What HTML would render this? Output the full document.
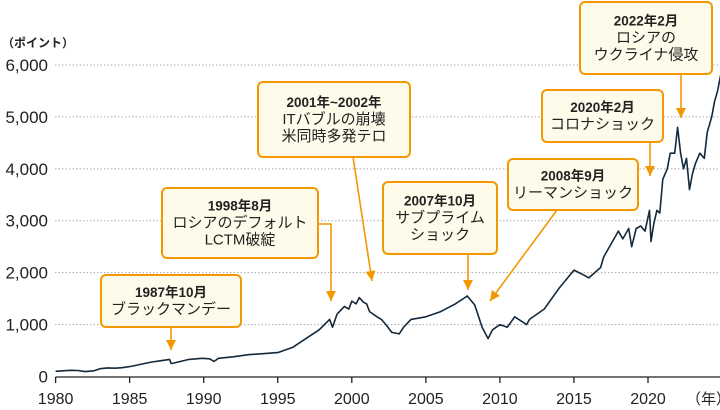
<!DOCTYPE html>
<html><head><meta charset="utf-8"><style>
body{margin:0;background:#fff;}
svg{display:block;font-family:"Liberation Sans","Noto Sans CJK JP",sans-serif;}
</style></head><body>
<svg id="chart" width="720" height="410" viewBox="0 0 720 410">
<g id="grid"></g>
<g id="yt"></g>
<g id="xt"></g>
<text x="2" y="47" font-size="12" font-weight="bold" fill="#222">（ポイント）</text>
<text x="686" y="404" font-size="15" fill="#222">（年）</text>
<path id="line" fill="none" stroke="#14293b" stroke-width="1.6" stroke-linejoin="round"/>
<g id="notes"></g>
</svg>
<script>
const years=[1980,1980.5,1981,1981.5,1982,1982.6,1983,1983.5,1984,1984.5,1985,1985.5,1986,1986.5,1987,1987.7,1987.8,1988,1989,1989.9,1990.4,1990.7,1991,1992,1993,1994,1995,1996,1997,1997.8,1998.5,1998.7,1999,1999.5,1999.8,2000,2000.3,2000.5,2000.8,2001,2001.2,2001.7,2002,2002.3,2002.7,2003.2,2003.5,2004,2005,2006,2007,2007.8,2008.3,2008.8,2009.2,2009.5,2010,2010.5,2011,2011.8,2012,2013,2014,2015,2015.7,2016,2016.8,2017,2018,2018.3,2018.7,2018.9,2019.2,2019.5,2019.8,2020.1,2020.2,2020.4,2020.6,2020.8,2021,2021.3,2021.5,2021.8,2022,2022.2,2022.4,2022.6,2022.8,2023,2023.2,2023.5,2023.8,2024,2024.3,2024.5,2024.7,2024.9];
const values=[100,110,120,115,95,110,150,165,160,170,190,220,250,280,300,330,250,260,330,350,340,290,350,380,420,440,460,560,750,900,1100,950,1200,1350,1300,1450,1400,1520,1430,1400,1250,1150,1100,1000,850,820,950,1100,1150,1250,1400,1550,1380,950,730,900,1000,950,1150,1000,1100,1300,1700,2050,1950,1900,2100,2300,2800,2650,2850,2500,2850,2900,2800,3200,2600,2950,3200,3150,3800,4000,4300,4300,4800,4300,4000,4200,3600,3900,4100,4300,4200,4700,5000,5300,5500,5800];
const yTicks=[0,1000,2000,3000,4000,5000,6000];
const yLabels=["0","1,000","2,000","3,000","4,000","5,000","6,000"];
const xTicks=[1980,1985,1990,1995,2000,2005,2010,2015,2020];
const NS="http://www.w3.org/2000/svg";
const X=y=>55.6+(y-1980)*14.81;
const Y=v=>376.5-v*0.05192;
function mk(p,t,a){const e=document.createElementNS(NS,t);for(const k in a)e.setAttribute(k,a[k]);p.appendChild(e);return e;}
const grid=document.getElementById('grid'),yt=document.getElementById('yt'),xt=document.getElementById('xt');
yTicks.forEach((v,i)=>{
  if(v>0){const l=mk(grid,'line',{x1:55,x2:720,y1:Y(v),y2:Y(v),stroke:'#aaa','stroke-width':1,'stroke-dasharray':'1.5,2'});
  
  }
  const t=mk(yt,'text',{x:48,y:Y(v)+6,'text-anchor':'end','font-size':17,fill:'#222'});t.textContent=yLabels[i];
  
  
});
mk(xt,'line',{x1:55.6,x2:720,y1:377,y2:377,stroke:'#222','stroke-width':1.3});
xTicks.forEach(y=>{
  mk(xt,'line',{x1:X(y),x2:X(y),y1:377,y2:383,stroke:'#222','stroke-width':1.3});
  const t=mk(xt,'text',{x:X(y),y:404,'text-anchor':'middle','font-size':16,fill:'#222'});t.textContent=y;
  
  
});
document.getElementById('line').setAttribute('d',years.map((y,i)=>(i?'L':'M')+X(y).toFixed(1)+','+Y(values[i]).toFixed(1)).join(''));
const notes=document.getElementById('notes');
const O='#f39800';
function box(x,y,w,h,lines,name){
  const g=mk(notes,'g',{});
  
  
  mk(g,'rect',{x:x,y:y,width:w,height:h,rx:5,fill:'#fffbea',stroke:O,'stroke-width':2});
  const lh=17,top=y+h/2-(lines.length*lh)/2+13;
  lines.forEach((s,i)=>{const t=mk(g,'text',{x:x+w/2,y:top+i*lh,'text-anchor':'middle','font-size':i?15:13.5,'font-weight':i?'normal':'bold',fill:'#222'});t.textContent=s;});
  return g;
}
function arrow(pts){
  const d=pts.map((p,i)=>(i?'L':'M')+p[0]+','+p[1]).join('');
  mk(notes,'path',{d:d,fill:'none',stroke:O,'stroke-width':1.6});
  const [a,b]=[pts[pts.length-2],pts[pts.length-1]];
  const ang=Math.atan2(b[1]-a[1],b[0]-a[0]);const L=10,W=5;
  const bx=b[0]-L*Math.cos(ang),by=b[1]-L*Math.sin(ang);
  mk(notes,'polygon',{points:`${b[0]},${b[1]} ${bx+W*Math.sin(ang)},${by-W*Math.cos(ang)} ${bx-W*Math.sin(ang)},${by+W*Math.cos(ang)}`,fill:O});
}
arrow([[681,74],[681,118]]);
box(580,2,132,72,["2022年2月","ロシアの","ウクライナ侵攻"],'note-2022');
arrow([[650,142],[650,176]]);
box(542,90,121,52,["2020年2月","コロナショック"],'note-2020');
arrow([[557,210],[490,301]]);
box(508,159,130,51,["2008年9月","リーマンショック"],'note-2008');
arrow([[468,254],[468,290]]);
box(383,182,114,72,["2007年10月","サブプライム","ショック"],'note-2007');
arrow([[353,157],[372,281]]);
box(258,82,152,75,["2001年~2002年","ITバブルの崩壊","米同時多発テロ"],'note-2001');
arrow([[318,224],[331,224],[331,301]]);
box(162,188,156,70,["1998年8月","ロシアのデフォルト","LCTM破綻"],'note-1998');
arrow([[171,327],[171,350]]);
box(101,275,140,52,["1987年10月","ブラックマンデー"],'note-1987');
</script>
</body></html>
